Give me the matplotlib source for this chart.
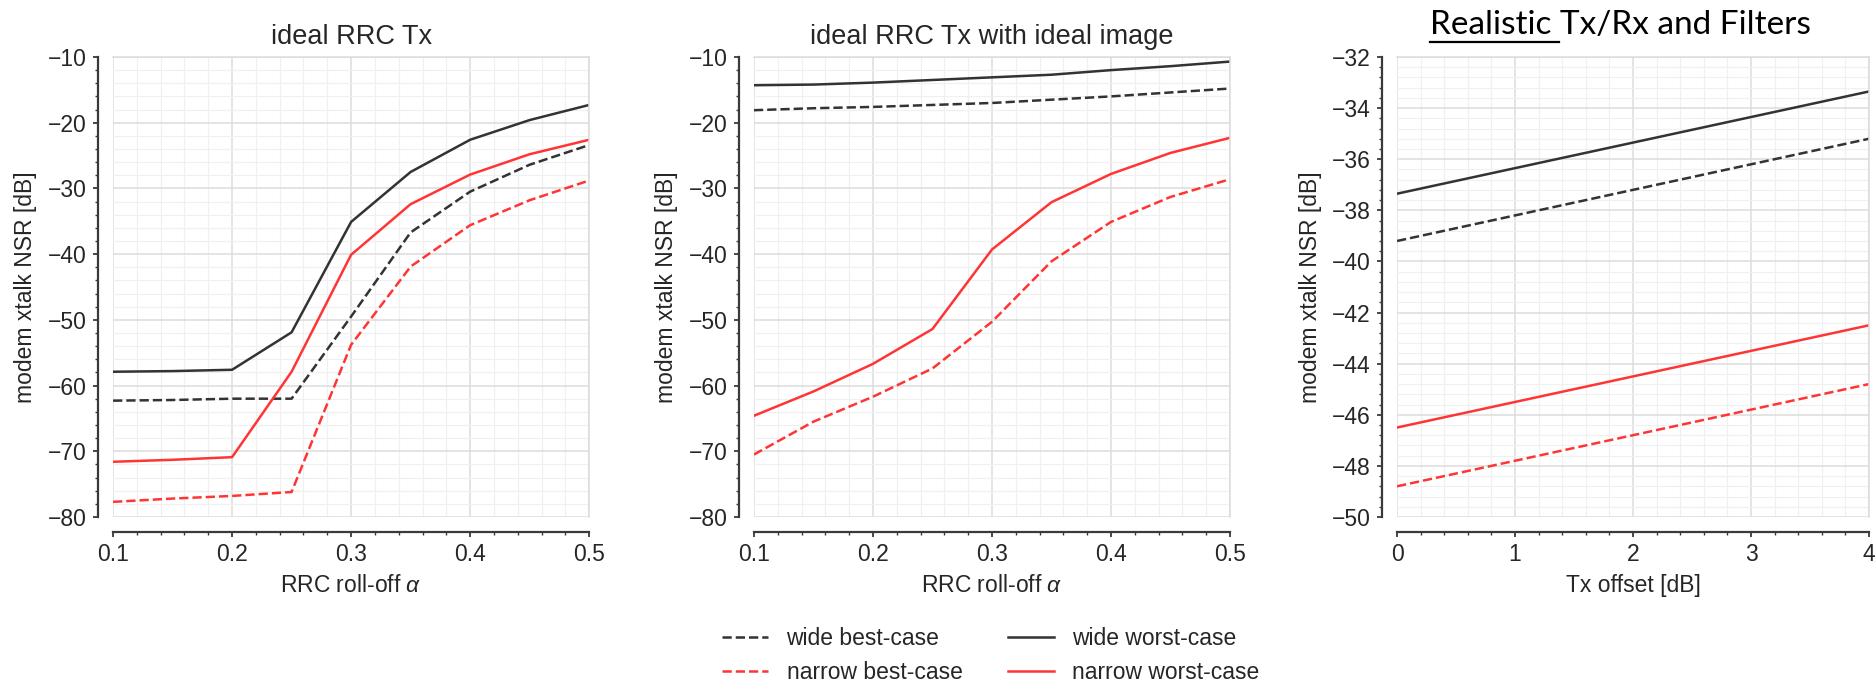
import numpy as np
import matplotlib
matplotlib.use('Agg')
import matplotlib.pyplot as plt
from matplotlib.ticker import MultipleLocator, AutoMinorLocator
from matplotlib.lines import Line2D

# roll-off values (panels 1 and 2)
alpha = [0.1, 0.15, 0.2, 0.25, 0.3, 0.35, 0.4, 0.45, 0.5]

# panel 1: ideal RRC Tx
wide_best_1    = [-62.3, -62.2, -62.0, -62.0, -49.5, -36.7, -30.5, -26.4, -23.4]
wide_worst_1   = [-57.9, -57.8, -57.6, -51.9, -35.1, -27.5, -22.6, -19.6, -17.3]
narrow_best_1  = [-77.7, -77.2, -76.8, -76.2, -53.8, -41.9, -35.6, -31.8, -28.8]
narrow_worst_1 = [-71.6, -71.3, -70.9, -57.9, -40.1, -32.4, -27.9, -24.8, -22.6]

# panel 2: ideal RRC Tx with ideal image
wide_best_2    = [-18.1, -17.8, -17.6, -17.3, -17.0, -16.5, -16.0, -15.4, -14.8]
wide_worst_2   = [-14.3, -14.2, -13.9, -13.5, -13.1, -12.7, -12.0, -11.4, -10.7]
narrow_best_2  = [-70.5, -65.5, -61.7, -57.4, -50.3, -41.1, -35.1, -31.3, -28.6]
narrow_worst_2 = [-64.6, -60.9, -56.7, -51.4, -39.3, -32.1, -27.8, -24.6, -22.3]

# panel 3: realistic Tx/Rx and filters
tx_offset      = [0, 1, 2, 3, 4]
wide_best_3    = [-39.2, -38.2, -37.2, -36.2, -35.2]
wide_worst_3   = [-37.35, -36.35, -35.35, -34.35, -33.35]
narrow_best_3  = [-48.8, -47.8, -46.8, -45.8, -44.8]
narrow_worst_3 = [-46.5, -45.5, -44.5, -43.5, -42.5]

labels = ['wide best-case', 'narrow best-case', 'wide worst-case', 'narrow worst-case']

black = '#333333'
red   = '#ff3535'
txtcol = '#262626'
fontSZ = 16.5
lineW = 1.8

plt.rcParams['font.family'] = ['Liberation Sans', 'DejaVu Sans']
plt.rcParams['mathtext.fontset'] = 'custom'
plt.rcParams['mathtext.it'] = 'Liberation Sans:italic'
plt.rcParams['text.color'] = txtcol
plt.rcParams['axes.labelcolor'] = txtcol

fig = plt.figure(figsize=(18.75, 6.84), dpi=100)

def style_axis(ax, xlim, ylim, xmaj, ymaj):
	ax.set_xlim(*xlim)
	ax.set_ylim(*ylim)
	ax.xaxis.set_major_locator(MultipleLocator(xmaj))
	ax.yaxis.set_major_locator(MultipleLocator(ymaj))
	ax.xaxis.set_minor_locator(AutoMinorLocator(5))
	ax.yaxis.set_minor_locator(AutoMinorLocator(5))
	ax.grid(which='major', color='#dcdcdc', linewidth=1.1)
	ax.grid(which='minor', color='#f0f0f0', linewidth=0.9)
	ax.set_axisbelow(True)
	for side in ['left', 'bottom']:
		ax.spines[side].set_position(('outward', 10.5))
		ax.spines[side].set_color('#3a3a3a')
		ax.spines[side].set_linewidth(1.6)
	for side in ['top', 'right']:
		ax.spines[side].set_color('#dcdcdc')
		ax.spines[side].set_linewidth(1.1)
	ax.tick_params(which='major', direction='out', length=3.5, width=1.3, color='#3a3a3a',
		       labelsize=fontSZ, labelcolor=txtcol, pad=5)
	ax.tick_params(which='minor', direction='out', length=2.2, width=1.0, color='#3a3a3a')
	ax.tick_params(top=False, right=False, which='both')
	ax.set_ylabel('modem xtalk NSR [dB]', fontsize=fontSZ)
	ax.yaxis.set_label_coords(-0.16, 0.5)

def draw(ax, x, wb, ww, nb, nw):
	h1, = ax.plot(x, wb, color=black, linestyle='--', linewidth=lineW)
	h2, = ax.plot(x, nb, color=red, linestyle='--', linewidth=lineW)
	h3, = ax.plot(x, ww, color=black, linestyle='-', linewidth=lineW)
	h4, = ax.plot(x, nw, color=red, linestyle='-', linewidth=lineW)
	return [h1, h2, h3, h4]

bottom = 0.2442
height = 0.6725

ax1 = fig.add_axes([0.0603, bottom, 0.2539, height])
ax2 = fig.add_axes([0.4021, bottom, 0.2539, height])
ax3 = fig.add_axes([0.7451, bottom, 0.2517, height])

draw(ax1, alpha, wide_best_1, wide_worst_1, narrow_best_1, narrow_worst_1)
handles = draw(ax2, alpha, wide_best_2, wide_worst_2, narrow_best_2, narrow_worst_2)
draw(ax3, tx_offset, wide_best_3, wide_worst_3, narrow_best_3, narrow_worst_3)

style_axis(ax1, (0.1, 0.5), (-80, -10), 0.1, 10)
style_axis(ax2, (0.1, 0.5), (-80, -10), 0.1, 10)
style_axis(ax3, (0, 4), (-50, -32), 1, 2)

for ax in [ax1, ax2]:
	ax.set_xlabel(r'RRC roll-off $\alpha$', fontsize=fontSZ)
	ax.xaxis.set_label_coords(0.5, -0.125)
ax3.set_xlabel('Tx offset [dB]', fontsize=fontSZ)
ax3.xaxis.set_label_coords(0.5, -0.125)

ax1.set_title('ideal RRC Tx', fontsize=19.5, pad=9)
ax2.set_title('ideal RRC Tx with ideal image', fontsize=19.5, pad=9)

# third title: overlay style text with underlined first word
ttl_y = 1 - 34.3 / 684.0
ttl_x = 1429.5 / 1875.0
tfont = dict(fontsize=24, family=['Lato', 'DejaVu Sans'], color='black')
t_full = fig.text(ttl_x, ttl_y, 'Realistic Tx/Rx and Filters', ha='left', va='baseline', **tfont)
t_pre = fig.text(ttl_x, ttl_y, 'Realistic T', ha='left', va='baseline', alpha=0, **tfont)
t_T = fig.text(ttl_x, ttl_y, 'T', ha='left', va='baseline', alpha=0, **tfont)
fig.canvas.draw()
r = fig.canvas.get_renderer()
bb_pre = t_pre.get_window_extent(r)
bb_T = t_T.get_window_extent(r)
x_end = (bb_pre.x1 - bb_T.width) / fig.bbox.width
uy = 1 - 42.0 / 684.0
fig.add_artist(Line2D([ttl_x, x_end], [uy, uy], color='black', linewidth=1.6,
		      transform=fig.transFigure))

fig.legend(handles, labels, loc='center', bbox_to_anchor=(991 / 1875.0, 1 - 655.5 / 684.0),
	   ncol=2, frameon=False, fontsize=fontSZ)

fig.savefig('out.png', dpi=100)
